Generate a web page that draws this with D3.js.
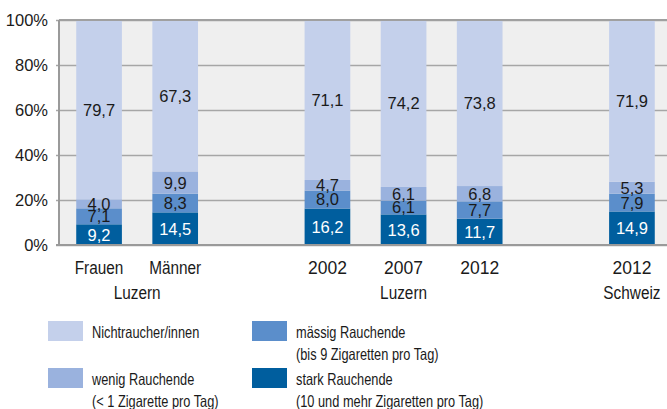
<!DOCTYPE html>
<html>
<head>
<meta charset="utf-8">
<script src="https://cdn.jsdelivr.net/npm/d3@7"></script>
<style>
  body { margin: 0; background: #fff; }
  svg { display: block; }
</style>
</head>
<body>
<div id="chart"></div>
<script>
// Rauchverhalten, Anteile in %
var categories = ['Frauen', 'Männer', '2002', '2007', '2012', '2012'];
var stark   = [9.2, 14.5, 16.2, 13.6, 11.7, 14.9];
var maessig = [7.1, 8.3, 8.0, 6.1, 7.7, 7.9];
var wenig   = [4.0, 9.9, 4.7, 6.1, 6.8, 5.3];
var nicht   = [79.7, 67.3, 71.1, 74.2, 73.8, 71.9];

var groupNames = ['Luzern', 'Luzern', 'Schweiz'];
var groupMembers = [[0, 1], [2, 3, 4], [5]];

var yTicks = [0, 20, 40, 60, 80, 100];

var seriesNames = ['Nichtraucher/innen', 'wenig Rauchende', 'mässig Rauchende', 'stark Rauchende'];
var seriesNotes = ['', '(< 1 Zigarette pro Tag)', '(bis 9 Zigaretten pro Tag)', '(10 und mehr Zigaretten pro Tag)'];
var seriesColors = ['#c4d0eb', '#9ab2de', '#5b8ecb', '#005e9e'];

var W = 667, H = 409;
var margin = {left: 59, top: 20, bottom: 245};
var font = '"Liberation Sans", Arial, sans-serif';

var svg = d3.select('#chart').append('svg')
    .attr('width', W)
    .attr('height', H);

// slots: bars plus two empty slots that separate the groups
var slots = ['c0', 'c1', 'gapA', 'c2', 'c3', 'c4', 'gapB', 'c5'];
var x = d3.scaleBand()
    .domain(slots)
    .range([61, 670])
    .paddingInner(0.4)
    .paddingOuter(0.2);
var key = function (i) { return 'c' + i; };
var mid = function (i) { return x(key(i)) + x.bandwidth() / 2; };

var y = d3.scaleLinear()
    .domain([0, 100])
    .range([margin.bottom, margin.top]);

// no narrow face installed, so the words get squeezed horizontally
function place(sel, tx, ty, sx) {
    sel.attr('transform', function (d, i) {
        return 'translate(' + tx(d, i) + ',' + ty(d, i) + ') scale(' + sx(d, i) + ',1)';
    });
}
var isNum = function (d) { return /^\d+$/.test(d); };

// plot background
svg.append('rect')
    .attr('x', margin.left)
    .attr('y', y(100))
    .attr('width', W - margin.left)
    .attr('height', y(0) - y(100))
    .attr('fill', '#efefef');

// grid
var yAxis = d3.axisLeft(y)
    .tickValues(yTicks)
    .tickSize(-(W - margin.left))
    .tickPadding(10)
    .tickFormat(function (d) { return d + '%'; });

var gy = svg.append('g')
    .attr('transform', 'translate(' + margin.left + ',0)')
    .call(yAxis);
gy.select('.domain').remove();
gy.selectAll('.tick line')
    .attr('x1', -3)
    .attr('stroke', '#a6a6a6')
    .attr('stroke-width', 1.5);
gy.selectAll('.tick text')
    .attr('x', -11)
    .attr('font-family', font)
    .attr('font-size', 16.5)
    .attr('fill', '#1a1a1a');

// stacked bars
var rows = categories.map(function (c, i) {
    return {i: i, nicht: nicht[i], wenig: wenig[i], maessig: maessig[i], stark: stark[i]};
});
var stackKeys = ['stark', 'maessig', 'wenig', 'nicht'];
var stackColors = {stark: seriesColors[3], maessig: seriesColors[2], wenig: seriesColors[1], nicht: seriesColors[0]};
var series = d3.stack().keys(stackKeys)(rows);

var layers = svg.append('g').selectAll('g')
    .data(series)
    .join('g')
    .attr('fill', function (s) { return stackColors[s.key]; });

layers.selectAll('rect')
    .data(function (s) { return s; })
    .join('rect')
    .attr('x', function (d) { return x(key(d.data.i)); })
    .attr('width', x.bandwidth())
    .attr('y', function (d) { return y(d[1]); })
    .attr('height', function (d) { return y(d[0]) - y(d[1]); });

// value labels
series.forEach(function (s) {
    svg.append('g').selectAll('text')
        .data(s)
        .join('text')
        .attr('x', function (d) { return mid(d.data.i); })
        .attr('y', function (d) { return (y(d[0]) + y(d[1])) / 2; })
        .attr('dy', '0.36em')
        .attr('text-anchor', 'middle')
        .attr('font-family', font)
        .attr('font-size', 16.5)
        .attr('fill', s.key === 'stark' ? '#ffffff' : '#1a1a1a')
        .text(function (d) { return d3.format('.1f')(d.data[s.key]).replace('.', ','); });
});

// top line, baseline and left axis
svg.append('line')
    .attr('x1', margin.left).attr('x2', W)
    .attr('y1', y(100)).attr('y2', y(100))
    .attr('stroke', '#a0a0a0').attr('stroke-width', 2);
svg.append('line')
    .attr('x1', margin.left - 3).attr('x2', W)
    .attr('y1', y(0)).attr('y2', y(0))
    .attr('stroke', '#9a9a9a').attr('stroke-width', 2);
svg.append('line')
    .attr('x1', margin.left).attr('x2', margin.left)
    .attr('y1', y(100)).attr('y2', y(0))
    .attr('stroke', '#9a9a9a').attr('stroke-width', 2);

// category labels
svg.append('g').selectAll('text')
    .data(categories)
    .join('text')
    .attr('text-anchor', 'middle')
    .attr('font-family', font)
    .attr('font-size', function (d) { return isNum(d) ? 17.5 : 18.5; })
    .attr('fill', '#1a1a1a')
    .text(function (d) { return d; })
    .call(place,
        function (d, i) { return mid(i); },
        function () { return 274; },
        function (d) { return isNum(d) ? 1 : 0.83; });

// group labels
svg.append('g').selectAll('text')
    .data(groupNames)
    .join('text')
    .attr('text-anchor', 'middle')
    .attr('font-family', font)
    .attr('font-size', 18.5)
    .attr('fill', '#1a1a1a')
    .text(function (d) { return d; })
    .call(place,
        function (d, g) {
            var m = groupMembers[g];
            return (mid(m[0]) + mid(m[m.length - 1])) / 2;
        },
        function () { return 299; },
        function () { return 0.83; });

// legend, two columns
var legend = svg.append('g').selectAll('g')
    .data(seriesNames)
    .join('g')
    .attr('transform', function (d, i) {
        var col = i < 2 ? 0 : 1;
        var row = i % 2;
        return 'translate(' + (48 + col * 204) + ',' + (321 + row * 47) + ')';
    });

legend.append('rect')
    .attr('width', 35)
    .attr('height', 20)
    .attr('fill', function (d, i) { return seriesColors[i]; });

legend.append('text')
    .attr('font-family', font)
    .attr('font-size', 16.5)
    .attr('fill', '#1a1a1a')
    .text(function (d) { return d; })
    .call(place, function () { return 44; }, function () { return 17; }, function () { return 0.775; });

legend.append('text')
    .attr('font-family', font)
    .attr('font-size', 16.5)
    .attr('fill', '#1a1a1a')
    .text(function (d, i) { return seriesNotes[i]; })
    .call(place, function () { return 44; }, function () { return 39; }, function () { return 0.775; });
</script>
</body>
</html>
